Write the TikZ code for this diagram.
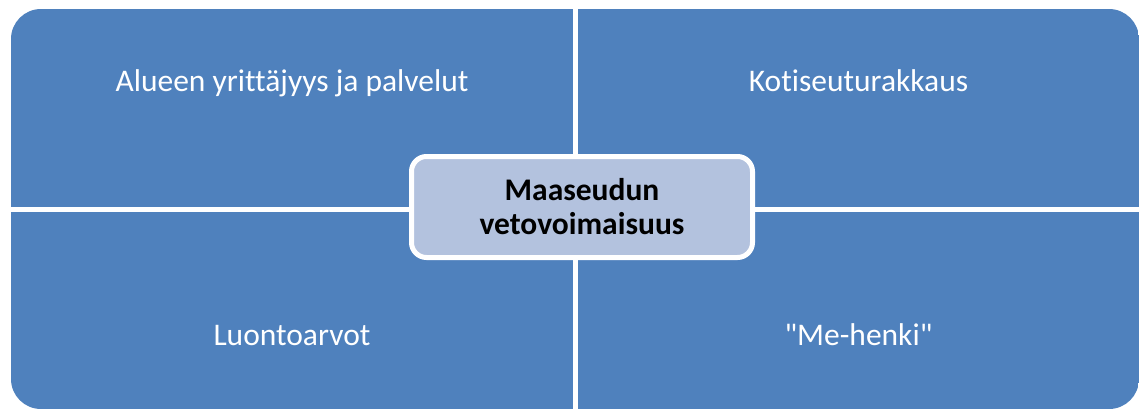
\documentclass[tikz,border=0pt]{standalone}
\usepackage{fontspec}
\setmainfont[Ligatures=NoCommon]{Carlito}
\usepackage{xcolor}
\usetikzlibrary{positioning}

\definecolor{quadblue}{RGB}{79,129,189}
\definecolor{centerblue}{RGB}{179,194,222}

\begin{document}
\begin{tikzpicture}[
    x=1bp,y=-1bp,
    every node/.style={font=\fontsize{31.5bp}{34bp}\selectfont},
    quad/.style={fill=quadblue},
    label/.style={text=white,anchor=base},
    center/.style={rectangle,rounded corners=15bp,draw=white,line width=5bp,
        fill=centerblue,minimum width=341bp,minimum height=101bp,
        align=center,font=\fontsize{31.5bp}{34bp}\selectfont\bfseries}
]
\useasboundingbox (0,0) rectangle (1141,410);

% Four quadrants, clipped to one rounded outline
\begin{scope}
\clip[rounded corners=30bp] (11,9) rectangle (1139,409);
\fill[quad] (11,9)    rectangle (573,207);
\fill[quad] (578,9)   rectangle (1139,207);
\fill[quad] (11,212)  rectangle (573,409);
\fill[quad] (578,212) rectangle (1139,409);
\end{scope}

% Quadrant labels
\node[label] (yritys)  at (292,91)    {Alueen yrittäjyys ja palvelut};
\node[label] (koti)    at (858.5,91)  {Kotiseuturakkaus};
\node[label] (luonto)  at (292,345)   {Luontoarvot};
\node[label] (mehenki) at (858.5,345) {\textquotedbl Me-henki\textquotedbl};

% Centre box
\node[center] (veto) at (582,207) {Maaseudun\\vetovoimaisuus};

\end{tikzpicture}
\end{document}
